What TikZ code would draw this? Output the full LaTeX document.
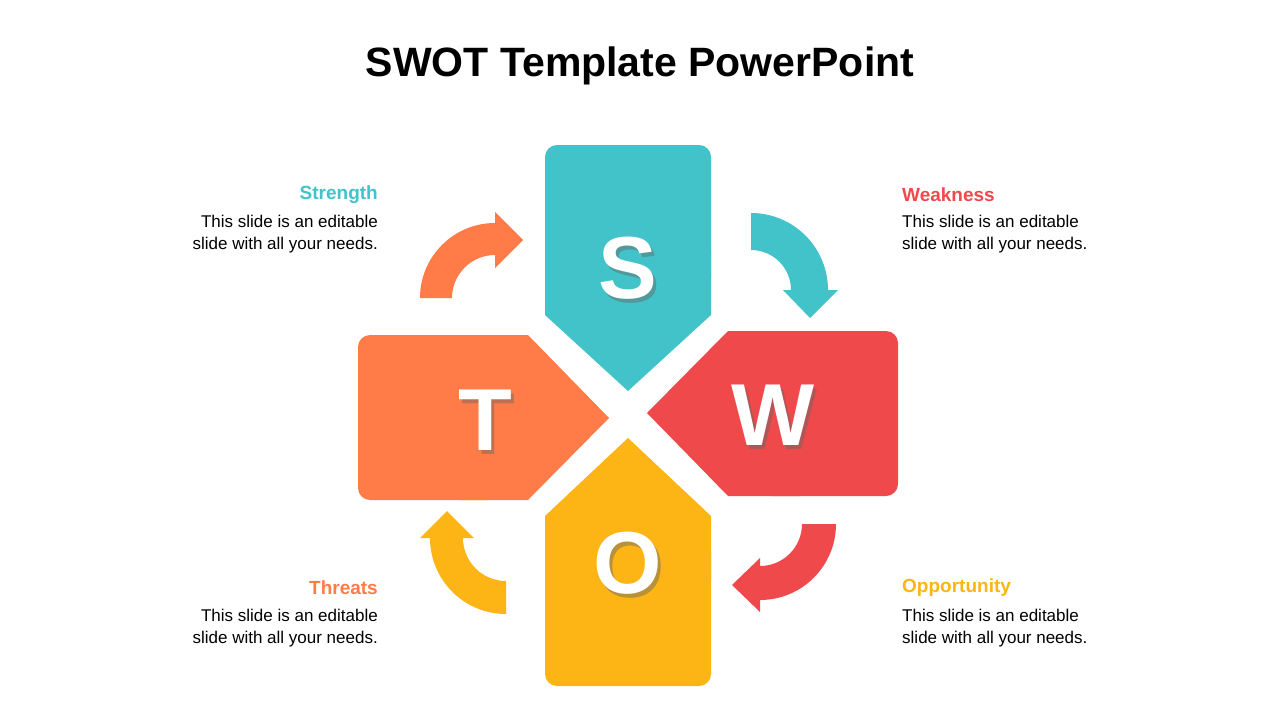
\documentclass[tikz,border=0pt]{standalone}
\usepackage{fontspec}
\setmainfont{Liberation Sans}
\definecolor{cT}{HTML}{42C3C9}
\definecolor{cR}{HTML}{F0494B}
\definecolor{cO}{HTML}{FF7B47}
\definecolor{cY}{HTML}{FDB515}
\begin{document}
\begin{tikzpicture}[x=1pt,y=-1pt,
  letter/.style={text=white,font=\fontsize{88}{88}\selectfont\bfseries,inner sep=0},
  shad/.style={text=black!60,font=\fontsize{88}{88}\selectfont\bfseries,inner sep=0,opacity=0.45},
  head/.style={font=\fontsize{19}{22}\selectfont\bfseries,inner sep=0},
  body/.style={font=\fontsize{17}{22}\selectfont,inner sep=0,align=left}]
\useasboundingbox[fill=white] (0,0) rectangle (1280,720);
\node[font=\fontsize{41}{41}\selectfont\bfseries] (title) at (640,66) {SWOT Template PowerPoint};
% S
\fill[cT,rounded corners=12] (545,145) rectangle (711,290);
\fill[cT] (545,250) -- (711,250) -- (711,315) -- (628,391) -- (545,315) -- cycle;
% W
\fill[cR,rounded corners=12] (760,331) rectangle (898,496);
\fill[cR] (800,331) -- (728,331) -- (647,413) -- (728,496) -- (800,496) -- cycle;
% T
\fill[cO,rounded corners=12] (358,335) rectangle (500,500);
\fill[cO] (460,335) -- (528,335) -- (609,418) -- (528,500) -- (460,500) -- cycle;
% O
\fill[cY,rounded corners=12] (545,540) rectangle (711,686);
\fill[cY] (545,580) -- (711,580) -- (711,516) -- (628,438) -- (545,516) -- cycle;
\foreach \n/\l/\x/\y in {s/S/628/268,w/W/773/415,t/T/485/420,o/O/628/563}{
  \node[shad] at (\x+3,\y+4) {\l};
  \node[letter] (\n) at (\x,\y) {\l};
}
% arrows
\fill[cO] (495,298) ++(180:75) arc(180:270:75) -- (495,212) -- (523,240) -- (495,268) -- (495,255) arc(270:180:43) -- cycle;
\fill[cT] (751,290) ++(270:77) arc(270:360:77) -- (838,290) -- (810,318) -- (783,290) -- (791,290) arc(0:-90:40) -- cycle;
\fill[cR] (760,524) ++(0:76) arc(0:90:76) -- (760,612) -- (732,585) -- (760,558) -- (760,566) arc(90:0:42) -- cycle;
\fill[cY] (506,538) ++(90:76) arc(90:180:76) -- (420,538) -- (447,511) -- (474,538) -- (463,538) arc(180:90:43) -- cycle;
% texts
\node[head,text=cT,anchor=east] (h1) at (378,195) {Strength};
\node[body,anchor=north east,align=right] (b1) at (378,215) {This slide is an editable\\slide with all your needs.};
\node[head,text=cR,anchor=west] (h2) at (902,195) {Weakness};
\node[body,anchor=north west] (b2) at (902,215) {This slide is an editable\\slide with all your needs.};
\node[head,text=cO,anchor=east] (h3) at (378,588) {Threats};
\node[body,anchor=north east,align=right] (b3) at (378,609) {This slide is an editable\\slide with all your needs.};
\node[head,text=cY,anchor=west] (h4) at (902,588) {Opportunity};
\node[body,anchor=north west] (b4) at (902,609) {This slide is an editable\\slide with all your needs.};
\end{tikzpicture}
\end{document}
